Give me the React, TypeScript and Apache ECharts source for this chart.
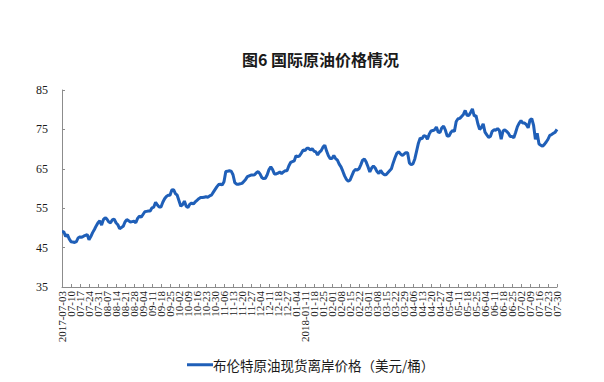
import React, { useEffect, useRef } from "react";
import * as echarts from "echarts";

const titleText = "图6 国际原油价格情况";
const seriesName = "布伦特原油现货离岸价格（美元/桶）";

const weekLabels = [
  "2017-07-03", "07-10", "07-17", "07-24", "07-31", "08-07", "08-14", "08-21", "08-28",
  "09-04", "09-11", "09-18", "09-25", "10-02", "10-09", "10-16", "10-23", "10-30",
  "11-06", "11-13", "11-20", "11-27", "12-04", "12-11", "12-18", "12-27", "01-04",
  "2018-01-11", "01-18", "01-25", "02-01", "02-08", "02-15", "02-22", "03-01", "03-08",
  "03-15", "03-22", "03-29", "04-06", "04-13", "04-20", "04-27", "05-04", "05-11",
  "05-18", "05-25", "06-04", "06-11", "06-18", "06-25", "07-02", "07-09", "07-16",
  "07-23", "07-30",
];

// daily prices, grouped by the week that starts at each label
const weeklyPrices: number[][] = [
  [49.0, 49.0, 47.8, 48.3, 47.2],
  [46.5, 46.4, 46.3, 46.5, 47.5],
  [47.7, 47.6, 47.9, 48.1, 48.3],
  [47.0, 47.8, 48.8, 49.6, 50.5],
  [51.3, 51.8, 50.7, 52.1, 52.6],
  [52.2, 51.5, 51.3, 52.1, 52.2],
  [51.3, 50.8, 49.8, 50.1, 50.4],
  [51.5, 52.1, 51.8, 51.5, 51.6],
  [51.7, 51.3, 52.4, 53.0, 52.7],
  [53.4, 54.1, 54.2, 54.3, 54.3],
  [55.1, 55.3, 56.5, 55.8, 55.3],
  [55.3, 56.5, 57.4, 58.0, 58.3],
  [58.3, 59.6, 59.7, 58.7, 58.3],
  [56.9, 55.5, 55.9, 56.8, 55.5],
  [55.2, 56.0, 56.3, 56.1, 56.6],
  [57.0, 57.4, 57.7, 57.7, 57.8],
  [57.9, 57.8, 58.1, 58.3, 59.0],
  [59.7, 60.4, 61.0, 61.1, 60.9],
  [61.7, 64.3, 64.4, 64.5, 64.4],
  [63.5, 61.5, 61.1, 61.1, 61.2],
  [61.3, 61.8, 62.3, 63.0, 63.2],
  [63.4, 63.4, 63.5, 64.0, 64.3],
  [63.7, 62.8, 62.5, 62.6, 63.5],
  [64.8, 65.5, 64.8, 63.7, 63.7],
  [63.9, 64.2, 63.8, 64.2, 64.5],
  [64.5, 65.7, 66.6, 66.8, 67.0],
  [68.3, 68.1, 68.3, 69.0, 69.8],
  [69.6, 70.2, 70.2, 69.8, 70.1],
  [69.5, 69.3, 68.5, 69.2, 69.6],
  [70.5, 71.0, 69.5, 68.3, 67.6],
  [67.6, 68.4, 67.6, 67.2, 66.2],
  [65.5, 64.4, 63.2, 62.3, 61.9],
  [62.1, 63.2, 64.3, 64.8, 64.7],
  [65.0, 66.0, 67.2, 67.5, 66.7],
  [65.5, 64.2, 65.2, 65.7, 65.2],
  [64.3, 63.8, 64.6, 63.9, 63.5],
  [63.5, 64.0, 64.5, 65.0, 66.5],
  [67.8, 68.9, 69.3, 68.8, 68.4],
  [68.7, 69.1, 69.1, 66.5, 66.0],
  [66.3, 67.5, 69.5, 71.5, 72.8],
  [72.6, 73.4, 73.3, 72.5, 73.8],
  [74.6, 74.7, 74.9, 75.6, 74.3],
  [74.2, 75.4, 75.8, 74.8, 73.3],
  [73.3, 74.2, 74.7, 74.5, 77.0],
  [77.7, 77.8, 78.3, 78.8, 79.8],
  [78.6, 78.5, 79.3, 80.2, 78.4],
  [78.5, 76.5, 75.0, 75.5, 76.4],
  [74.3, 73.6, 73.0, 73.2, 74.5],
  [74.9, 74.8, 75.2, 74.7, 72.5],
  [74.6, 74.9, 74.5, 74.0, 73.2],
  [73.2, 72.9, 74.2, 75.7, 76.6],
  [77.2, 76.6, 76.6, 76.2, 75.4],
  [77.4, 77.7, 76.0, 72.5, 74.0],
  [71.3, 71.0, 70.7, 71.2, 71.8],
  [72.5, 73.5, 73.7, 74.0, 74.3],
  [75.0],
];

const yTicks = { min: 35, max: 85, interval: 10 };

export default function App() {
  const ref = useRef<HTMLDivElement>(null);
  useEffect(() => {
    if (!ref.current) return;
    const chart = echarts.init(ref.current, undefined, { renderer: "svg" });
    const categories: string[] = [];
    const values: number[] = [];
    weeklyPrices.forEach((week, wi) => {
      week.forEach((v, di) => {
        categories.push(di === 0 ? weekLabels[wi] : weekLabels[wi] + "#" + di);
        values.push(v);
      });
    });
    const axisColor = "#8c8c8c";
    chart.setOption({
      animation: false,
      backgroundColor: "#ffffff",
      title: {
        text: titleText,
        left: 237,
        top: 46,
        textStyle: {
          fontFamily: "Noto Sans CJK SC",
          fontSize: 16,
          fontWeight: "bold",
          color: "#1a1a1a",
        },
      },
      legend: {
        left: 182,
        top: 353,
        itemWidth: 26,
        itemHeight: 3,
        itemGap: 4,
        icon: "rect",
        data: [seriesName],
        textStyle: {
          fontFamily: "Noto Sans CJK SC",
          fontSize: 13.5,
          color: "#1a1a1a",
          padding: [0, 0, 0, -5],
        },
      },
      grid: { left: 62, right: 47, top: 90, bottom: 95, containLabel: false },
      xAxis: {
        type: "category",
        data: categories,
        boundaryGap: false,
        axisLine: { lineStyle: { color: axisColor, width: 1 } },
        axisTick: { inside: true, length: 3, interval: 4, lineStyle: { color: axisColor } },
        axisLabel: {
          interval: 0,
          rotate: 90,
          margin: 4,
          hideOverlap: false,
          fontFamily: "Liberation Serif",
          fontSize: 11,
          color: "#1a1a1a",
          formatter: (v: string) => (v.indexOf("#") >= 0 ? "" : v),
        },
        splitLine: { show: false },
      },
      yAxis: {
        type: "value",
        min: yTicks.min,
        max: yTicks.max,
        interval: yTicks.interval,
        axisLine: { show: true, lineStyle: { color: axisColor, width: 1 } },
        axisTick: { show: true, inside: true, length: 3, lineStyle: { color: axisColor } },
        axisLabel: {
          margin: 14,
          fontFamily: "Liberation Serif",
          fontSize: 12,
          color: "#1a1a1a",
        },
        splitLine: { show: false },
      },
      series: [
        {
          name: seriesName,
          type: "line",
          data: values,
          showSymbol: false,
          symbol: "none",
          lineStyle: { color: "#1f5fb8", width: 3 },
          itemStyle: { color: "#1f5fb8" },
        },
      ],
    });
    return () => chart.dispose();
  }, []);
  return <div ref={ref} style={{ width: 604, height: 382, margin: -8 }} />;
}
